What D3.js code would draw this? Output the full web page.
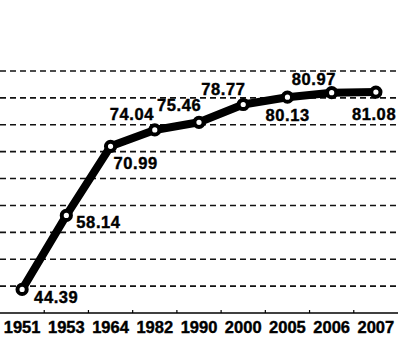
<!DOCTYPE html>
<html>
<head>
<meta charset="utf-8">
<script src="https://cdn.jsdelivr.net/npm/d3@7"></script>
<style>
  body { margin: 0; background: #fff; }
  svg { display: block; }
  text { font-family: "Liberation Sans", Arial, sans-serif; font-weight: bold; fill: #000; stroke: #000; stroke-width: 0.4px; }
</style>
</head>
<body>
<div class="graph-box"></div>
<script>
// chart data
var years = ["1951", "1953", "1964", "1982", "1990", "2000", "2005", "2006", "2007"];
var values = [44.39, 58.14, 70.99, 74.04, 75.46, 78.77, 80.13, 80.97, 81.08];
var gridValues = [45, 50, 55, 60, 65, 70, 75, 80, 85];

// where each value label sits relative to its point
var labelOffsets = [[12, 14], [10, 12.5], [3, 23], [-45, -10], [-42, -11.5], [-42, -10], [-22, 23.5], [-40, -8], [-24, 28]];

var width = 398, height = 354;

var svg = d3.select(".graph-box")
		.append("svg")
		.attr("width", width)
		.attr("height", height);

var x = d3.scaleBand().domain(years).range([0, width]);
var y = d3.scaleLinear().domain([40, 85]).range([313, 71]);

// dashed grid
svg.selectAll(".grid")
		.data(gridValues)
		.enter()
		.append("line")
		.attr("class", "grid")
		.attr("x1", 0)
		.attr("x2", width)
		.attr("y1", function(d) { return y(d); })
		.attr("y2", function(d) { return y(d); })
		.attr("stroke", "#111")
		.attr("stroke-width", 1.6)
		.attr("stroke-dasharray", "6,4");

// x axis, ticks on band edges pointing up
var axis = svg.append("g").attr("transform", "translate(0," + y(40) + ")");
axis.append("line")
		.attr("x1", 0).attr("x2", width)
		.attr("stroke", "#000").attr("stroke-width", 1.5);
axis.selectAll(".tick")
		.data(years.slice(1))
		.enter()
		.append("line")
		.attr("x1", function(d) { return x(d); })
		.attr("x2", function(d) { return x(d); })
		.attr("y1", 0).attr("y2", -3)
		.attr("stroke", "#000").attr("stroke-width", 1.2);
axis.selectAll(".year")
		.data(years)
		.enter()
		.append("text")
		.attr("x", function(d) { return x(d) + x.bandwidth() / 2; })
		.attr("y", 20)
		.attr("text-anchor", "middle")
		.style("font-size", "16.5px")
		.text(function(d) { return d; });

var points = years.map(function(yr, i) { return { year: yr, value: values[i], off: labelOffsets[i] }; });
function px(d) { return x(d.year) + x.bandwidth() / 2; }

var line = d3.line().x(px).y(function(d) { return y(d.value); });

svg.append("path")
		.datum(points)
		.attr("d", line)
		.attr("fill", "none")
		.attr("stroke", "#000")
		.attr("stroke-width", 8)
		.attr("stroke-linejoin", "round");

svg.selectAll(".pt")
		.data(points)
		.enter()
		.append("circle")
		.attr("class", "pt")
		.attr("cx", px)
		.attr("cy", function(d) { return y(d.value); })
		.attr("r", 4.6)
		.attr("fill", "#fff")
		.attr("stroke", "#000")
		.attr("stroke-width", 4);

svg.selectAll(".val")
		.data(points)
		.enter()
		.append("text")
		.attr("class", "val")
		.attr("x", function(d) { return px(d) + d.off[0]; })
		.attr("y", function(d) { return y(d.value) + d.off[1]; })
		.style("font-size", "16.5px")
		.style("letter-spacing", "0.6px")
		.text(function(d) { return d.value.toFixed(2); });
</script>
</body>
</html>
